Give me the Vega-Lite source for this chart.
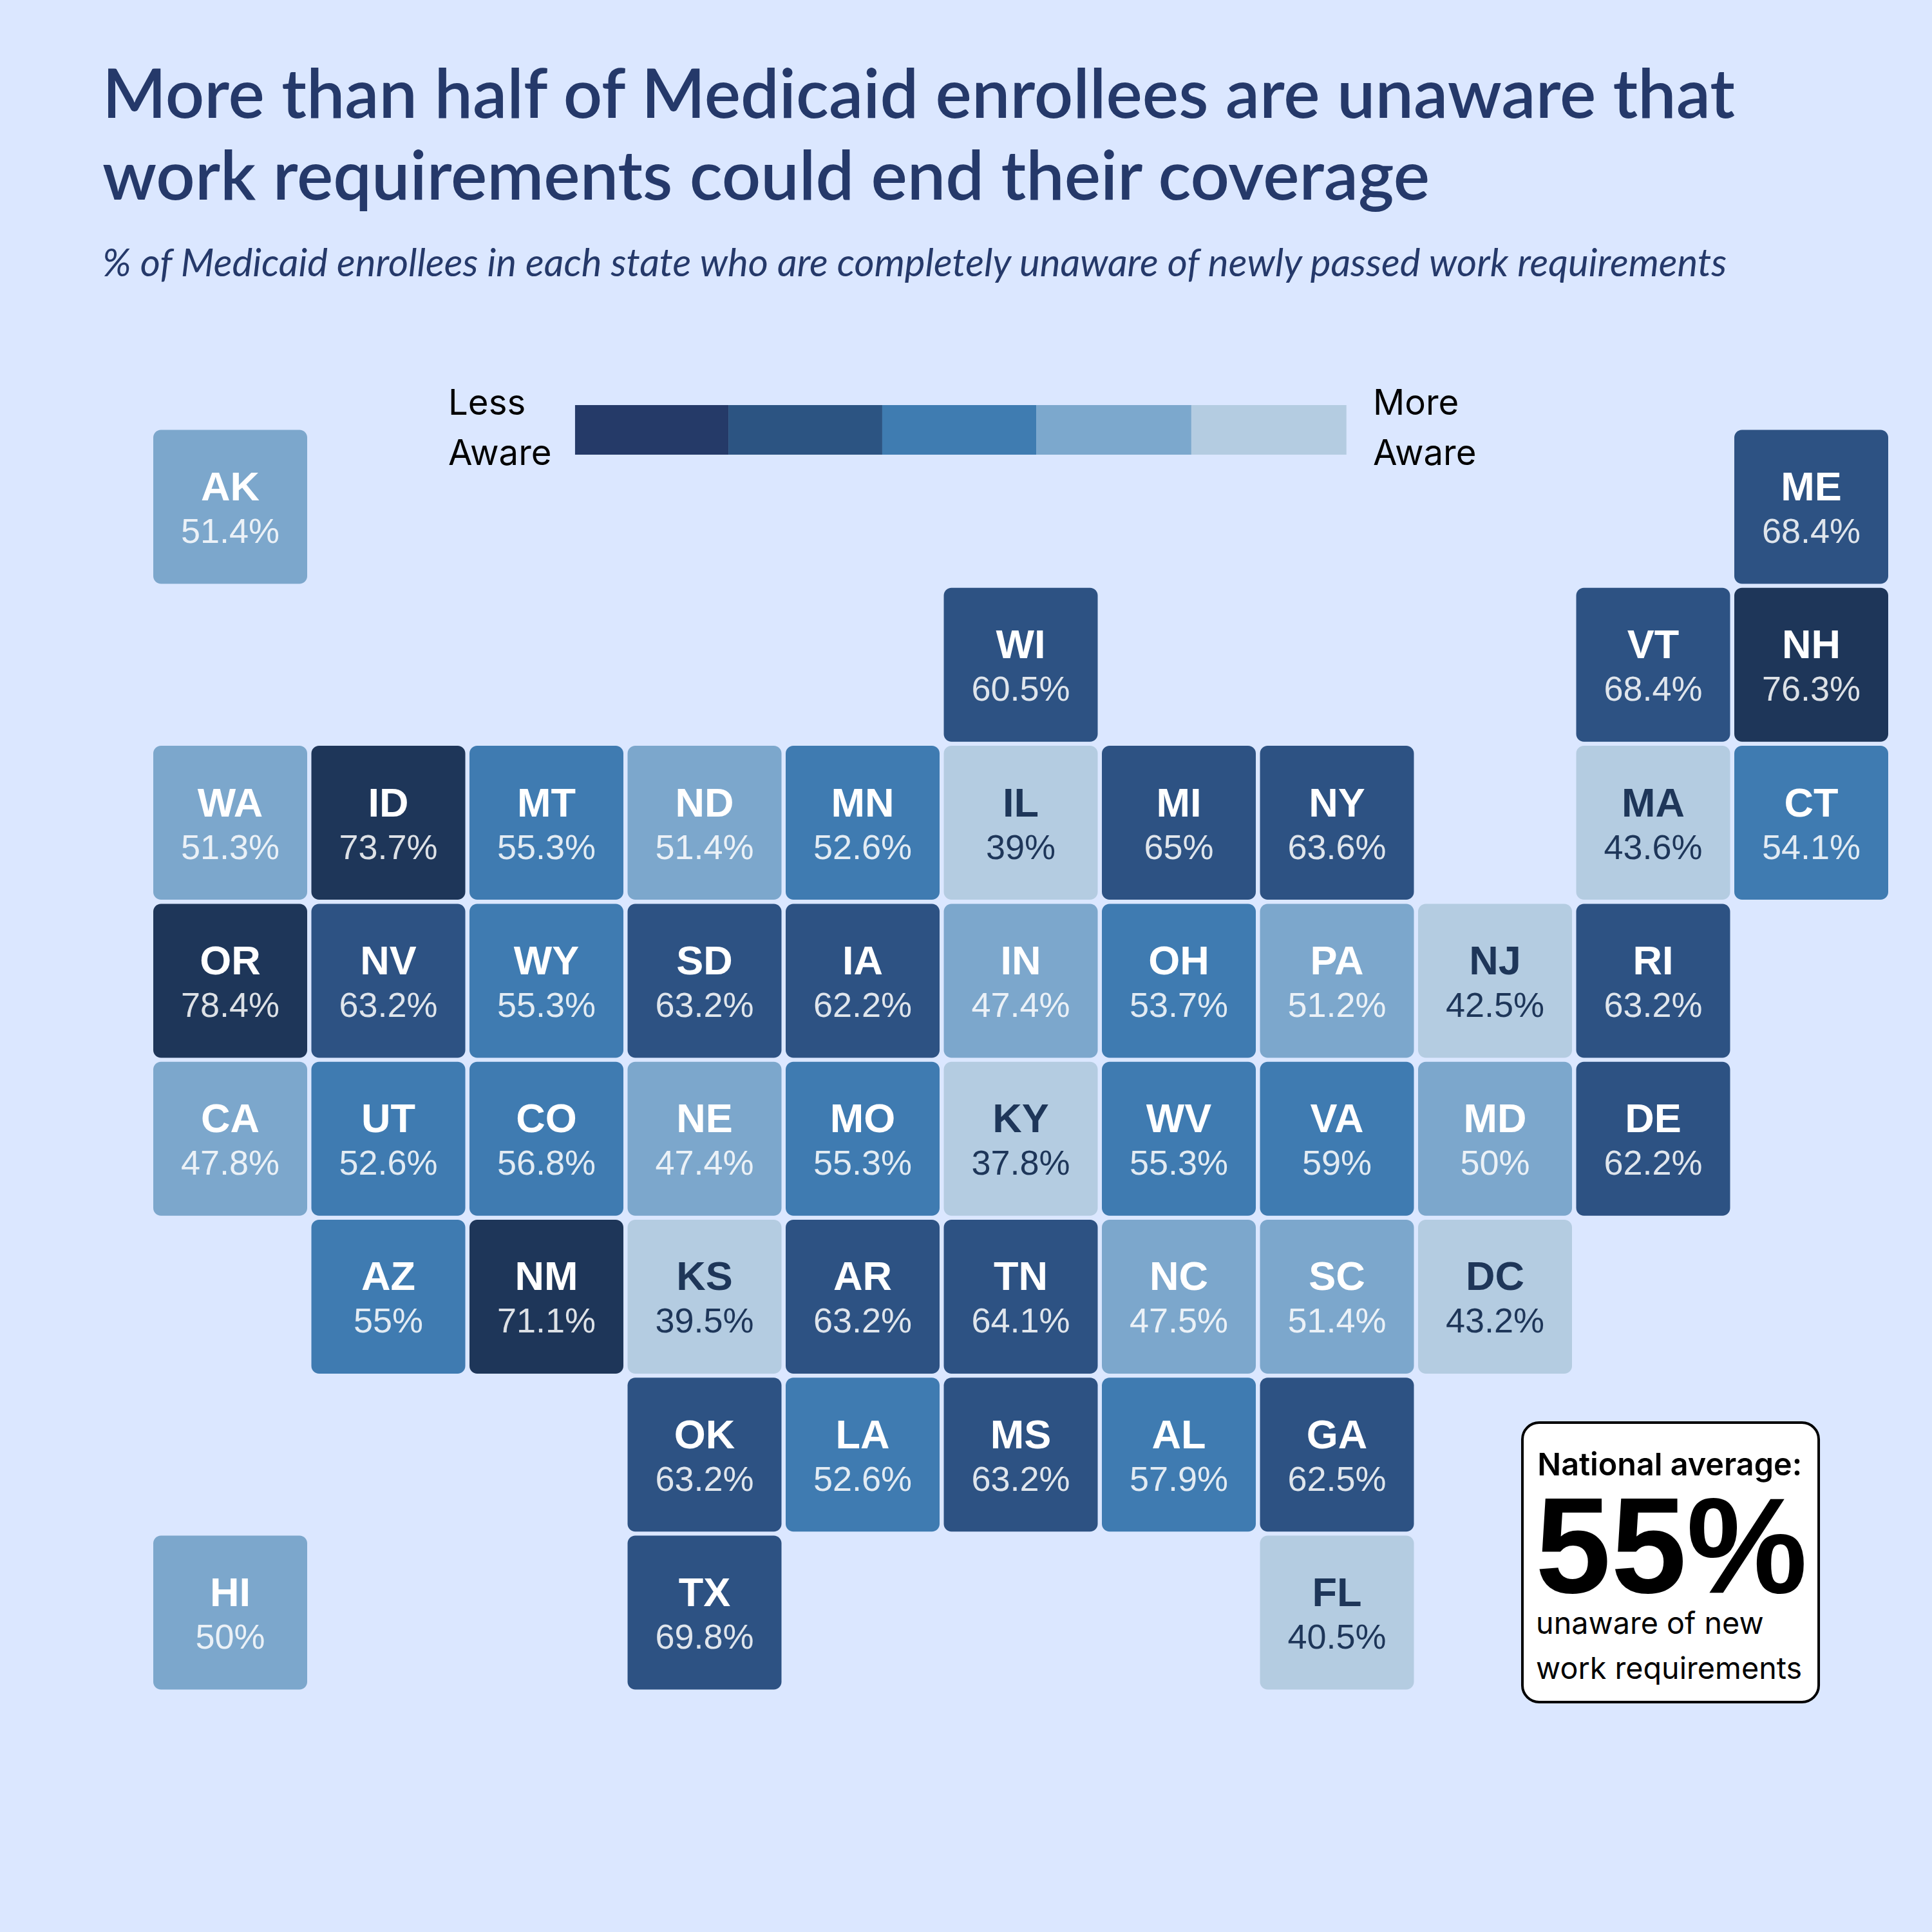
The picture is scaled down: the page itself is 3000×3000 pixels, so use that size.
{"$schema":"https://vega.github.io/schema/vega-lite/v6.json","autosize":"none","padding":{"top":480,"left":0,"right":0,"bottom":0},"width":3000,"height":2520,"background":"#DBE7FF","view":{"stroke":null},
"title":{"text":["More than half of Medicaid enrollees are unaware that","work requirements could end their coverage"],"subtitle":"% of Medicaid enrollees in each state who are completely unaware of newly passed work requirements","anchor":"start","frame":"group","dx":159,"offset":38,"font":"Lato","fontSize":106,"fontWeight":600,"lineHeight":127,"color":"#25396A","subtitleFont":"Lato","subtitleFontSize":60,"subtitleFontStyle":"italic","subtitleColor":"#25396A","subtitlePadding":50},
"datasets":{"states":[
{"state":"AK","col":0,"row":0,"value":51.4,"label":"51.4%"},{"state":"ME","col":10,"row":0,"value":68.4,"label":"68.4%"},
{"state":"WI","col":5,"row":1,"value":60.5,"label":"60.5%"},{"state":"VT","col":9,"row":1,"value":68.4,"label":"68.4%"},{"state":"NH","col":10,"row":1,"value":76.3,"label":"76.3%"},
{"state":"WA","col":0,"row":2,"value":51.3,"label":"51.3%"},{"state":"ID","col":1,"row":2,"value":73.7,"label":"73.7%"},{"state":"MT","col":2,"row":2,"value":55.3,"label":"55.3%"},{"state":"ND","col":3,"row":2,"value":51.4,"label":"51.4%"},{"state":"MN","col":4,"row":2,"value":52.6,"label":"52.6%"},{"state":"IL","col":5,"row":2,"value":39,"label":"39%"},{"state":"MI","col":6,"row":2,"value":65,"label":"65%"},{"state":"NY","col":7,"row":2,"value":63.6,"label":"63.6%"},{"state":"MA","col":9,"row":2,"value":43.6,"label":"43.6%"},{"state":"CT","col":10,"row":2,"value":54.1,"label":"54.1%"},
{"state":"OR","col":0,"row":3,"value":78.4,"label":"78.4%"},{"state":"NV","col":1,"row":3,"value":63.2,"label":"63.2%"},{"state":"WY","col":2,"row":3,"value":55.3,"label":"55.3%"},{"state":"SD","col":3,"row":3,"value":63.2,"label":"63.2%"},{"state":"IA","col":4,"row":3,"value":62.2,"label":"62.2%"},{"state":"IN","col":5,"row":3,"value":47.4,"label":"47.4%"},{"state":"OH","col":6,"row":3,"value":53.7,"label":"53.7%"},{"state":"PA","col":7,"row":3,"value":51.2,"label":"51.2%"},{"state":"NJ","col":8,"row":3,"value":42.5,"label":"42.5%"},{"state":"RI","col":9,"row":3,"value":63.2,"label":"63.2%"},
{"state":"CA","col":0,"row":4,"value":47.8,"label":"47.8%"},{"state":"UT","col":1,"row":4,"value":52.6,"label":"52.6%"},{"state":"CO","col":2,"row":4,"value":56.8,"label":"56.8%"},{"state":"NE","col":3,"row":4,"value":47.4,"label":"47.4%"},{"state":"MO","col":4,"row":4,"value":55.3,"label":"55.3%"},{"state":"KY","col":5,"row":4,"value":37.8,"label":"37.8%"},{"state":"WV","col":6,"row":4,"value":55.3,"label":"55.3%"},{"state":"VA","col":7,"row":4,"value":59,"label":"59%"},{"state":"MD","col":8,"row":4,"value":50,"label":"50%"},{"state":"DE","col":9,"row":4,"value":62.2,"label":"62.2%"},
{"state":"AZ","col":1,"row":5,"value":55,"label":"55%"},{"state":"NM","col":2,"row":5,"value":71.1,"label":"71.1%"},{"state":"KS","col":3,"row":5,"value":39.5,"label":"39.5%"},{"state":"AR","col":4,"row":5,"value":63.2,"label":"63.2%"},{"state":"TN","col":5,"row":5,"value":64.1,"label":"64.1%"},{"state":"NC","col":6,"row":5,"value":47.5,"label":"47.5%"},{"state":"SC","col":7,"row":5,"value":51.4,"label":"51.4%"},{"state":"DC","col":8,"row":5,"value":43.2,"label":"43.2%"},
{"state":"OK","col":3,"row":6,"value":63.2,"label":"63.2%"},{"state":"LA","col":4,"row":6,"value":52.6,"label":"52.6%"},{"state":"MS","col":5,"row":6,"value":63.2,"label":"63.2%"},{"state":"AL","col":6,"row":6,"value":57.9,"label":"57.9%"},{"state":"GA","col":7,"row":6,"value":62.5,"label":"62.5%"},
{"state":"HI","col":0,"row":7,"value":50,"label":"50%"},{"state":"TX","col":3,"row":7,"value":69.8,"label":"69.8%"},{"state":"FL","col":7,"row":7,"value":40.5,"label":"40.5%"}]},
"layer":[
{"data":{"name":"states"},"mark":{"type":"rect","width":239,"height":239,"cornerRadius":12},"encoding":{
"x":{"field":"col","type":"quantitative","axis":null,"scale":{"domain":[-1.4562,10.7637],"nice":false,"zero":false}},
"y":{"field":"row","type":"quantitative","axis":null,"scale":{"domain":[9.0216,-1.2515],"nice":false,"zero":false}},
"color":{"field":"value","type":"quantitative","legend":null,"scale":{"type":"threshold","domain":[45,52,60,70],"range":["#B4CCE1","#7CA7CC","#3F7BB1","#2D5283","#1E3659"]}}}},
{"data":{"name":"states"},"mark":{"type":"text","font":"Liberation Sans","fontWeight":"bold","fontSize":63,"baseline":"alphabetic","align":"center","dy":-10},"encoding":{
"x":{"field":"col","type":"quantitative"},"y":{"field":"row","type":"quantitative"},"text":{"field":"state"},
"color":{"field":"value","type":"quantitative","legend":null,"scale":{"type":"threshold","domain":[45],"range":["#1E3659","#FFFFFF"]}}}},
{"data":{"name":"states"},"mark":{"type":"text","font":"Liberation Sans","fontSize":54,"baseline":"alphabetic","align":"center","dy":56},"encoding":{
"x":{"field":"col","type":"quantitative"},"y":{"field":"row","type":"quantitative"},"text":{"field":"label"},
"opacity":{"field":"value","type":"quantitative","legend":null,"scale":{"type":"threshold","domain":[45],"range":[1,0.85]}},
"color":{"field":"value","type":"quantitative","legend":null,"scale":{"type":"threshold","domain":[45],"range":["#1E3659","#FFFFFF"]}}}},
{"data":{"values":[{"level":"1","start":2.181,"end":3.151,"top":-0.644,"bottom":-0.330},{"level":"2","start":3.151,"end":4.124,"top":-0.644,"bottom":-0.330},{"level":"3","start":4.124,"end":5.098,"top":-0.644,"bottom":-0.330},{"level":"4","start":5.098,"end":6.079,"top":-0.644,"bottom":-0.330},{"level":"5","start":6.079,"end":7.06,"top":-0.644,"bottom":-0.330}]},"mark":{"type":"rect"},"encoding":{
"x":{"field":"start","type":"quantitative"},"x2":{"field":"end"},"y":{"field":"top","type":"quantitative"},"y2":{"field":"bottom"},
"color":{"field":"level","type":"ordinal","legend":null,"scale":{"domain":["1","2","3","4","5"],"range":["#253A68","#2C5482","#3F7CB1","#7CA8CD","#B4CCE1"]}}}},
{"data":{"values":[{"text":"Less","gx":1.379,"gy":-0.583},{"text":"Aware","gx":1.379,"gy":-0.265},{"text":"More","gx":7.228,"gy":-0.583},{"text":"Aware","gx":7.228,"gy":-0.265}]},"mark":{"type":"text","font":"Inter","fontSize":54.5,"align":"left","baseline":"alphabetic","color":"#000000"},"encoding":{
"x":{"field":"gx","type":"quantitative"},"y":{"field":"gy","type":"quantitative"},"text":{"field":"text"}}},
{"data":{"values":[{"x1":8.173,"x2":10.047,"y1":5.797,"y2":7.566}]},"mark":{"type":"rect","fill":"#FFFFFF","stroke":"#000000","strokeWidth":4,"cornerRadius":26},"encoding":{
"x":{"field":"x1","type":"quantitative"},"x2":{"field":"x2"},"y":{"field":"y1","type":"quantitative"},"y2":{"field":"y2"}}},
{"data":{"values":[{"text":"National average:","gx":8.268,"gy":6.131}]},"mark":{"type":"text","font":"Inter","fontSize":48.5,"fontWeight":600,"align":"left","baseline":"alphabetic","color":"#000000"},"encoding":{
"x":{"field":"gx","type":"quantitative"},"y":{"field":"gy","type":"quantitative"},"text":{"field":"text"}}},
{"data":{"values":[{"text":"55%","gx":8.255,"gy":6.873}]},"mark":{"type":"text","font":"Liberation Sans","fontSize":211,"fontWeight":700,"align":"left","baseline":"alphabetic","color":"#000000"},"encoding":{
"x":{"field":"gx","type":"quantitative"},"y":{"field":"gy","type":"quantitative"},"text":{"field":"text"}}},
{"data":{"values":[{"text":"unaware of new","gx":8.259,"gy":7.134},{"text":"work requirements","gx":8.259,"gy":7.419}]},"mark":{"type":"text","font":"Inter","fontSize":46.7,"align":"left","baseline":"alphabetic","color":"#000000"},"encoding":{
"x":{"field":"gx","type":"quantitative"},"y":{"field":"gy","type":"quantitative"},"text":{"field":"text"}}}
],
"resolve":{"scale":{"color":"independent","opacity":"independent"}}}
